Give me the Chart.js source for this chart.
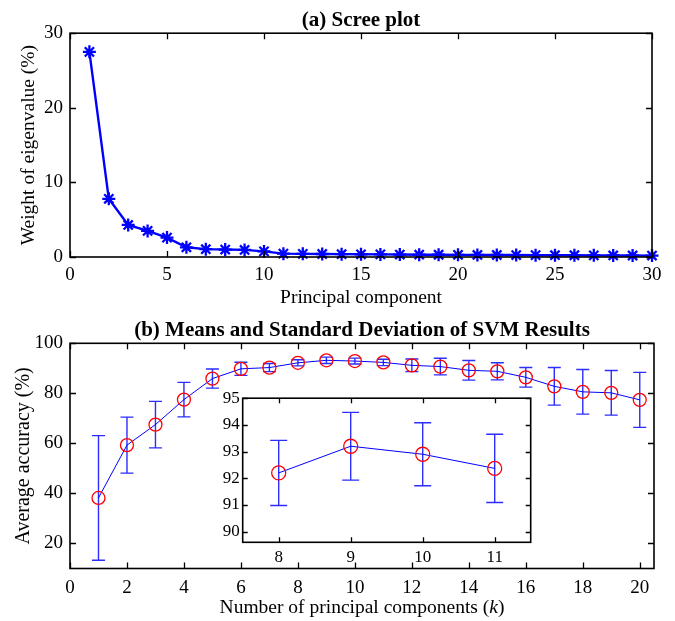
<!DOCTYPE html>
<html>
<head>
<meta charset="utf-8">
<script src="https://cdn.jsdelivr.net/npm/chart.js@4.4.1/dist/chart.umd.min.js"></script>
<style>
  body { margin: 0; background: #fff; }
  .wrap { position: relative; width: 675px; height: 621px; }
  canvas { position: absolute; }
</style>
</head>
<body>
<div class="wrap">
  <canvas id="scree" style="left:0;top:0;width:675px;height:310px" width="675" height="310"></canvas>
  <canvas id="svm" style="left:0;top:310px;width:675px;height:311px" width="675" height="311"></canvas>
  <canvas id="inset" style="left:195px;top:385px;width:345px;height:180px" width="345" height="180"></canvas>
</div>
<script>
// (a) scree plot: weight of each eigenvalue (%)
const components = [1, 2, 3, 4, 5, 6, 7, 8, 9, 10, 11, 12, 13, 14, 15,
                    16, 17, 18, 19, 20, 21, 22, 23, 24, 25, 26, 27, 28, 29, 30];
const eigWeight = [27.5, 7.8, 4.3, 3.5, 2.6, 1.3, 1.05, 1.0, 0.95, 0.75,
                   0.45, 0.42, 0.4, 0.38, 0.36, 0.35, 0.33, 0.31, 0.3, 0.29,
                   0.28, 0.27, 0.26, 0.25, 0.24, 0.23, 0.22, 0.21, 0.2, 0.19];
const screeXTicks = [0, 5, 10, 15, 20, 25, 30];
const screeYTicks = [0, 10, 20, 30];

// (b) SVM accuracy, mean and standard deviation per k
const kValues = [1, 2, 3, 4, 5, 6, 7, 8, 9, 10, 11, 12, 13, 14, 15, 16, 17, 18, 19, 20];
const accMean = [38.2, 59.3, 67.5, 77.5, 85.9, 89.8, 90.3, 92.2, 93.2, 92.9,
                 92.37, 91.2, 90.7, 89.2, 88.8, 86.4, 82.8, 80.6, 80.2, 77.4];
const accSd = [24.9, 11.2, 9.3, 6.9, 3.8, 2.6, 1.6, 1.22, 1.27, 1.18,
               1.28, 2.5, 3.3, 3.9, 3.4, 3.9, 7.5, 8.9, 8.9, 11.0];
const svmXTicks = [0, 2, 4, 6, 8, 10, 12, 14, 16, 18, 20];
const svmYTicks = [20, 40, 60, 80, 100];
// x label pieces, second one is italic
const svmXLabel = ['Number of principal components (', 'k', ')'];

// zoomed inset, k = 8..11
const insetK = kValues.slice(7, 11);
const insetMean = accMean.slice(7, 11);
const insetSd = accSd.slice(7, 11);
const insetXTicks = [8, 9, 10, 11];
const insetYTicks = [90, 91, 92, 93, 94, 95];

const serif = '"Liberation Serif", "Times New Roman", serif';
Chart.defaults.font.family = serif;
Chart.defaults.color = '#000';

// matlab style box with inward ticks on all four sides
function makeFrame(tickLen) {
  return {
    id: 'frame',
    afterDatasetsDraw(chart) {
      const { ctx, chartArea: a, scales } = chart;
      ctx.save();
      ctx.strokeStyle = '#000';
      ctx.lineWidth = 1.3;
      ctx.beginPath();
      scales.x.ticks.forEach(t => {
        const px = Math.round(scales.x.getPixelForValue(t.value)) + 0.5;
        ctx.moveTo(px, a.bottom); ctx.lineTo(px, a.bottom - tickLen);
        ctx.moveTo(px, a.top); ctx.lineTo(px, a.top + tickLen);
      });
      scales.y.ticks.forEach(t => {
        const py = Math.round(scales.y.getPixelForValue(t.value)) + 0.5;
        ctx.moveTo(a.left, py); ctx.lineTo(a.left + tickLen, py);
        ctx.moveTo(a.right, py); ctx.lineTo(a.right - tickLen, py);
      });
      ctx.stroke();
      ctx.lineWidth = 1.6;
      ctx.strokeRect(a.left, a.top, a.width, a.height);
      ctx.restore();
    }
  };
}

function makeErrorBars(xs, mean, sd, cap) {
  return {
    id: 'errorBars',
    beforeDatasetsDraw(chart) {
      const { ctx } = chart;
      const sx = chart.scales.x, sy = chart.scales.y;
      ctx.save();
      ctx.strokeStyle = 'rgb(45,45,255)';
      ctx.lineWidth = 1.4;
      ctx.beginPath();
      xs.forEach((xv, i) => {
        const px = sx.getPixelForValue(xv);
        const top = sy.getPixelForValue(mean[i] + sd[i]);
        const bot = sy.getPixelForValue(mean[i] - sd[i]);
        ctx.moveTo(px, top); ctx.lineTo(px, bot);
        ctx.moveTo(px - cap, top); ctx.lineTo(px + cap, top);
        ctx.moveTo(px - cap, bot); ctx.lineTo(px + cap, bot);
      });
      ctx.stroke();
      ctx.restore();
    }
  };
}

// x axis title with an italic part, centred under the plot
function makeMixedTitle(parts, size, fromBottom) {
  return {
    id: 'mixedTitle',
    afterDraw(chart) {
      const { ctx, chartArea: a } = chart;
      const fonts = parts.map((p, i) => (i === 1 ? 'italic ' : '') + size + 'px ' + serif);
      ctx.save();
      let total = 0;
      const widths = parts.map((p, i) => { ctx.font = fonts[i]; const w = ctx.measureText(p).width; total += w; return w; });
      let x = (a.left + a.right) / 2 - total / 2;
      const y = chart.height - fromBottom;
      ctx.fillStyle = '#000';
      ctx.textBaseline = 'middle';
      ctx.textAlign = 'left';
      parts.forEach((p, i) => { ctx.font = fonts[i]; ctx.fillText(p, x, y); x += widths[i]; });
      ctx.restore();
    }
  };
}

const whiteArea = {
  id: 'whiteArea',
  beforeDraw(chart) {
    const { ctx, chartArea: a } = chart;
    ctx.save();
    ctx.fillStyle = '#fff';
    ctx.fillRect(a.left, a.top, a.width, a.height);
    ctx.restore();
  }
};

function fixedTicks(list) {
  return function (scale) { scale.ticks = list.map(v => ({ value: v })); };
}

// CHART (a)
new Chart(document.getElementById('scree'), {
  type: 'line',
  data: {
    datasets: [{
      data: components.map((c, i) => ({ x: c, y: eigWeight[i] })),
      borderColor: '#0000ff',
      borderWidth: 2.4,
      pointStyle: 'star',
      pointRadius: 6.5,
      pointBorderWidth: 2.3,
      pointBorderColor: '#0000ff',
      clip: false
    }]
  },
  options: {
    responsive: false,
    animation: false,
    layout: { padding: { left: 0, right: 23, top: 0, bottom: 0 } },
    plugins: {
      legend: { display: false },
      tooltip: { enabled: false },
      title: {
        display: true,
        text: '(a) Scree plot',
        fullSize: false,
        font: { size: 21, weight: 'bold', family: serif },
        padding: { top: 8, bottom: 0 }
      }
    },
    scales: {
      x: {
        type: 'linear', min: 0, max: 30,
        grid: { display: false, drawTicks: false },
        border: { display: false },
        afterBuildTicks: fixedTicks(screeXTicks),
        afterFit: s => { s.height = 53; },
        ticks: { font: { size: 19 }, padding: 7, maxRotation: 0 },
        title: { display: true, text: 'Principal component', font: { size: 19.5 }, padding: { top: 0, bottom: 0 } }
      },
      y: {
        type: 'linear', min: 0, max: 30,
        grid: { display: false, drawTicks: false },
        border: { display: false },
        afterBuildTicks: fixedTicks(screeYTicks),
        afterFit: s => { s.width = 70; },
        ticks: { font: { size: 19 }, padding: 7 },
        title: { display: true, text: 'Weight of eigenvalue (%)', font: { size: 19.5 }, padding: { top: 17, bottom: 0 } }
      }
    }
  },
  plugins: [makeFrame(6)]
});

// CHART (b)
new Chart(document.getElementById('svm'), {
  type: 'line',
  data: {
    datasets: [{
      data: kValues.map((k, i) => ({ x: k, y: accMean[i] })),
      borderColor: '#0000ff',
      borderWidth: 1,
      pointStyle: 'circle',
      pointRadius: 6.5,
      pointBorderWidth: 1.3,
      pointBorderColor: '#ff0000',
      pointBackgroundColor: 'rgba(0,0,0,0)',
      clip: false
    }]
  },
  options: {
    responsive: false,
    animation: false,
    layout: { padding: { left: 0, right: 21, top: 0, bottom: 0 } },
    plugins: {
      legend: { display: false },
      tooltip: { enabled: false },
      title: {
        display: true,
        text: '(b) Means and Standard Deviation of SVM Results',
        fullSize: false,
        font: { size: 21, weight: 'bold', family: serif },
        padding: { top: 8.1, bottom: 0 }
      }
    },
    scales: {
      x: {
        type: 'linear', min: 0, max: 20.5,
        grid: { display: false, drawTicks: false },
        border: { display: false },
        afterBuildTicks: fixedTicks(svmXTicks),
        afterFit: s => { s.height = 52.5; },
        ticks: { font: { size: 19 }, padding: 8, maxRotation: 0 }
      },
      y: {
        type: 'linear', min: 10, max: 100,
        grid: { display: false, drawTicks: false },
        border: { display: false },
        afterBuildTicks: fixedTicks(svmYTicks),
        afterFit: s => { s.width = 70; },
        ticks: { font: { size: 19 }, padding: 7 },
        title: { display: true, text: 'Average accuracy (%)', font: { size: 20 }, padding: { top: 12, bottom: 0 } }
      }
    }
  },
  plugins: [makeErrorBars(kValues, accMean, accSd, 6.5), makeFrame(6), makeMixedTitle(svmXLabel, 19.5, 13)]
});

// INSET
new Chart(document.getElementById('inset'), {
  type: 'line',
  data: {
    datasets: [{
      data: insetK.map((k, i) => ({ x: k, y: insetMean[i] })),
      borderColor: '#0000ff',
      borderWidth: 1,
      pointStyle: 'circle',
      pointRadius: 7,
      pointBorderWidth: 1.3,
      pointBorderColor: '#ff0000',
      pointBackgroundColor: 'rgba(0,0,0,0)'
    }]
  },
  options: {
    responsive: false,
    animation: false,
    layout: { padding: { left: 0, right: 9.3, top: 12.3, bottom: 0 } },
    plugins: { legend: { display: false }, tooltip: { enabled: false } },
    scales: {
      x: {
        type: 'linear', min: 7.5, max: 11.5,
        grid: { display: false, drawTicks: false },
        border: { display: false },
        afterBuildTicks: fixedTicks(insetXTicks),
        afterFit: s => { s.height = 22.7; },
        ticks: { font: { size: 17 }, padding: 5, maxRotation: 0 }
      },
      y: {
        type: 'linear', min: 89.6, max: 95,
        grid: { display: false, drawTicks: false },
        border: { display: false },
        afterBuildTicks: fixedTicks(insetYTicks),
        afterFit: s => { s.width = 47.7; },
        ticks: { font: { size: 17 }, padding: 3 }
      }
    }
  },
  plugins: [whiteArea, makeErrorBars(insetK, insetMean, insetSd, 8.5), makeFrame(5)]
});
</script>
</body>
</html>
